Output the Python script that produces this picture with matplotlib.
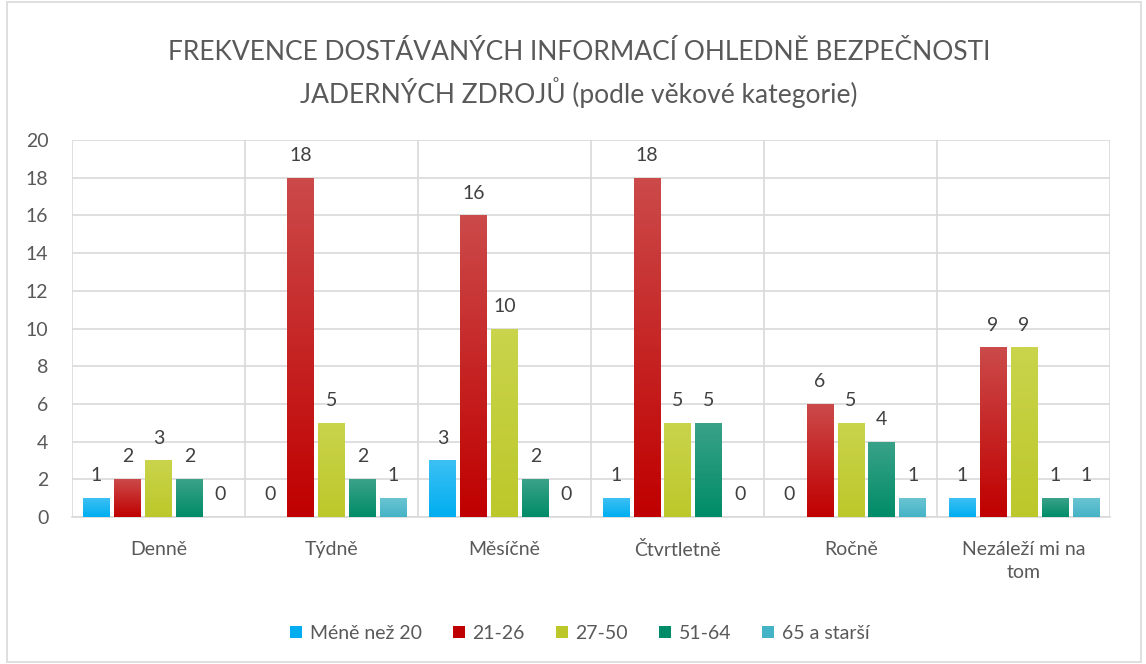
import matplotlib
matplotlib.use("Agg")
import matplotlib.pyplot as plt
import numpy as np
from matplotlib.colors import LinearSegmentedColormap
from matplotlib.patches import Rectangle

plt.rcParams['font.family'] = ['Lato', 'DejaVu Sans']

categories = ["Denně", "Týdně", "Měsíčně", "Čtvrtletně", "Ročně", "Nezáleží mi na\ntom"]
series_names = ["Méně než 20", "21-26", "27-50", "51-64", "65 a starší"]
mene_nez_20 = [1, 0, 3, 1, 0, 1]
v21_26 = [2, 18, 16, 18, 6, 9]
v27_50 = [3, 5, 10, 5, 5, 9]
v51_64 = [2, 2, 2, 5, 4, 1]
v65_starsi = [0, 1, 0, 0, 1, 1]
series = [mene_nez_20, v21_26, v27_50, v51_64, v65_starsi]
yticks = list(range(0, 21, 2))

colors_bottom = ["#00aef0", "#c00000", "#bcc82a", "#008c68", "#45b3c6"]
colors_top = ["#3cc0f4", "#cc4a4a", "#cad44c", "#3aa288", "#6ac4d2"]

fig = plt.figure(figsize=(11.46, 6.64), dpi=100)
fig.patches.append(Rectangle((0.006, 0.003), 0.99, 0.994, transform=fig.transFigure,
                             fill=False, edgecolor="#d9d9d9", linewidth=1.2))
ax = fig.add_axes([0.0628, 0.2214, 0.906, 0.5676])

x = np.arange(len(categories))
slot = 0.179
bw = 0.152
text_color = "#595959"

for i, (vals, name) in enumerate(zip(series, series_names)):
    pos = x + (i - 2) * slot
    bars = ax.bar(pos, vals, width=bw, color=colors_bottom[i], label=name, zorder=3, linewidth=0)
    cmap = LinearSegmentedColormap.from_list("g%d" % i, [colors_bottom[i], colors_top[i]])
    for b, v in zip(bars, vals):
        if v > 0:
            im = ax.imshow(np.linspace(0, 1, 100).reshape(-1, 1), cmap=cmap, origin="lower",
                           extent=[b.get_x(), b.get_x() + b.get_width(), 0, v],
                           aspect="auto", zorder=3.5)
            im.set_clip_path(b)
        ax.annotate(str(v), (b.get_x() + b.get_width() / 2, v), xytext=(0, 10),
                    textcoords="offset points", ha="center", va="bottom",
                    fontsize=14, color="#404040", zorder=5)

ax.set_xlim(-0.5, len(categories) - 0.5)
ax.set_ylim(0, 20)
ax.set_yticks(yticks)
ax.set_xticks(x)
ax.set_xticklabels(categories, linespacing=1.45)
ax.tick_params(axis="both", length=0, labelsize=14, labelcolor=text_color)
ax.tick_params(axis="x", pad=17)
ax.tick_params(axis="y", pad=17)
for lbl in ax.get_yticklabels():
    lbl.set_horizontalalignment("right")

ax.grid(axis="y", color="#d9d9d9", linewidth=1.2, zorder=0)
for b in np.arange(-0.5, len(categories) + 0.5, 1):
    ax.axvline(b, color="#d9d9d9", linewidth=1.2, zorder=0)
for s in ["top", "right", "left"]:
    ax.spines[s].set_visible(False)
ax.spines["bottom"].set_color("#d9d9d9")
ax.spines["bottom"].set_linewidth(1.2)

fig.suptitle("FREKVENCE DOSTÁVANÝCH INFORMACÍ OHLEDNĚ BEZPEČNOSTI\nJADERNÝCH ZDROJŮ (podle věkové kategorie)",
             x=0.505, y=0.94, fontsize=19, color=text_color, linespacing=1.45)

leg = fig.legend(loc="center", bbox_to_anchor=(0.506, 0.046), ncol=5, frameon=False,
                 fontsize=14, handlelength=0.6, handleheight=0.6, columnspacing=1.6,
                 handletextpad=0.4)
for t in leg.get_texts():
    t.set_color(text_color)

fig.savefig("out.png", dpi=100)
